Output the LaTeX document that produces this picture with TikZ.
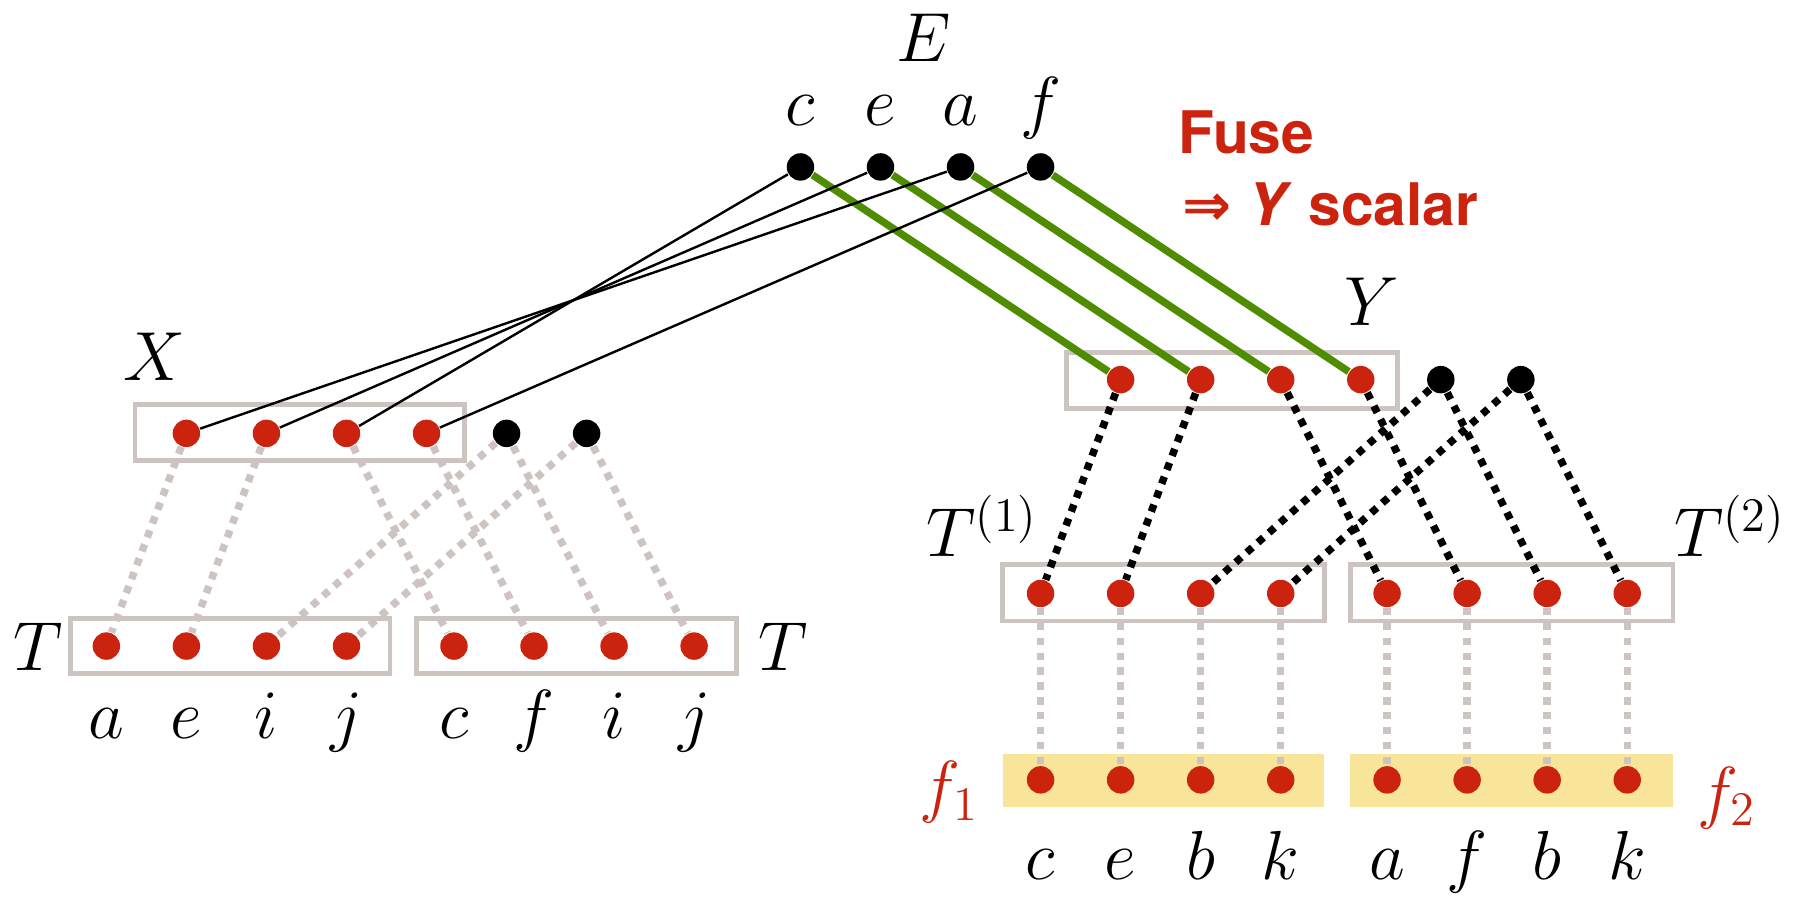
\documentclass[tikz,border=0pt]{standalone}
\usepackage{fontspec}
\newfontfamily\fusefont{TeX Gyre Heros}
\newfontfamily\arrowfont{DejaVu Sans}
\definecolor{dotred}{RGB}{204,35,15}
\definecolor{fusegreen}{RGB}{78,140,0}
\definecolor{boxgray}{RGB}{205,196,194}
\definecolor{fuseyellow}{RGB}{249,229,153}
\tikzset{
  rdot/.style={circle,fill=dotred,inner sep=0pt,minimum size=0.24cm},
  bdot/.style={circle,fill=black,inner sep=0pt,minimum size=0.24cm},
  lbl/.style={inner sep=0pt,anchor=base,font=\LARGE},
  tbox/.style={draw=boxgray,line width=1.2pt},
  ybox/.style={fill=fuseyellow},
  glink/.style={draw=boxgray,line width=0.065cm,dash pattern=on 0.065cm off 0.065cm},
  klink/.style={draw=black,line width=0.065cm,dash pattern=on 0.065cm off 0.065cm},
  elink/.style={draw=black,line width=0.6pt},
  flink/.style={draw=fusegreen,line width=0.065cm}
}
\begin{document}
\begin{tikzpicture}
\useasboundingbox (0,0) rectangle (15.68,7.85);
% boxes
\draw[tbox] (1.18,3.82) rectangle (4.06,4.31);
\draw[tbox] (0.62,1.96) rectangle (3.41,2.44); \draw[tbox] (3.64,1.96) rectangle (6.44,2.44);
\draw[tbox] (9.33,4.28) rectangle (12.22,4.77);
\draw[tbox] (8.77,2.42) rectangle (11.58,2.91); \draw[tbox] (11.81,2.42) rectangle (14.63,2.91);
\fill[ybox] (8.77,0.79) rectangle (11.58,1.26); \fill[ybox] (11.81,0.79) rectangle (14.63,1.26);
% E on top
\node[bdot] (Ec) at (7.00,6.39) {}; \node[bdot] (Ee) at (7.70,6.39) {}; \node[bdot] (Ea) at (8.40,6.39) {}; \node[bdot] (Ef) at (9.10,6.39) {};
% X and its two T
\node[rdot] (Xa) at (1.63,4.06) {}; \node[rdot] (Xe) at (2.33,4.06) {}; \node[rdot] (Xc) at (3.03,4.06) {}; \node[rdot] (Xf) at (3.73,4.06) {}; \node[bdot] (Xi) at (4.43,4.06) {}; \node[bdot] (Xj) at (5.13,4.06) {};
\node[rdot] (TLa) at (0.93,2.20) {}; \node[rdot] (TLe) at (1.63,2.20) {}; \node[rdot] (TLi) at (2.33,2.20) {}; \node[rdot] (TLj) at (3.03,2.20) {};
\node[rdot] (TRc) at (3.97,2.20) {}; \node[rdot] (TRf) at (4.67,2.20) {}; \node[rdot] (TRi) at (5.37,2.20) {}; \node[rdot] (TRj) at (6.07,2.20) {};
% Y, T^(1), T^(2) and the f's
\node[rdot] (Yc) at (9.80,4.53) {}; \node[rdot] (Ye) at (10.50,4.53) {}; \node[rdot] (Ya) at (11.20,4.53) {}; \node[rdot] (Yf) at (11.90,4.53) {}; \node[bdot] (Yb) at (12.60,4.53) {}; \node[bdot] (Yk) at (13.30,4.53) {};
\node[rdot] (Ac) at (9.10,2.66) {}; \node[rdot] (Ae) at (9.80,2.66) {}; \node[rdot] (Ab) at (10.50,2.66) {}; \node[rdot] (Ak) at (11.20,2.66) {};
\node[rdot] (Ba) at (12.13,2.66) {}; \node[rdot] (Bf) at (12.83,2.66) {}; \node[rdot] (Bb) at (13.53,2.66) {}; \node[rdot] (Bk) at (14.23,2.66) {};
\node[rdot] (Fc) at (9.10,1.03) {}; \node[rdot] (Fe) at (9.80,1.03) {}; \node[rdot] (Fb) at (10.50,1.03) {}; \node[rdot] (Fk) at (11.20,1.03) {};
\node[rdot] (Ga) at (12.13,1.03) {}; \node[rdot] (Gf) at (12.83,1.03) {}; \node[rdot] (Gb) at (13.53,1.03) {}; \node[rdot] (Gk) at (14.23,1.03) {};
% links
\foreach \A/\B in {Ec/Yc,Ee/Ye,Ea/Ya,Ef/Yf}{\draw[flink] (\A) -- (\B);}
\foreach \A/\B in {Ec/Xc,Ee/Xe,Ea/Xa,Ef/Xf}{\draw[elink] (\A) -- (\B);}
\foreach \A/\B in {Xa/TLa,Xe/TLe,Xi/TLi,Xj/TLj,Xc/TRc,Xf/TRf,Xi/TRi,Xj/TRj}{\draw[glink] (\A) -- (\B);}
\foreach \A/\B in {Yc/Ac,Ye/Ae,Yb/Ab,Yk/Ak,Ya/Ba,Yf/Bf,Yb/Bb,Yk/Bk}{\draw[klink] (\A) -- (\B);}
\foreach \A/\B in {Ac/Fc,Ae/Fe,Ab/Fb,Ak/Fk,Ba/Ga,Bf/Gf,Bb/Gb,Bk/Gk}{\draw[glink] (\A) -- (\B);}
% labels
\node[lbl] (labE) at (8.08,7.31) {$E$};
\node[lbl] (labEc) at (7.00,6.75) {$c$}; \node[lbl] (labEe) at (7.70,6.75) {$e$}; \node[lbl] (labEa) at (8.40,6.75) {$a$}; \node[lbl] (labEf) at (9.10,6.75) {$f$};
\node[lbl] (labX) at (1.35,4.52) {$X$};
\node[lbl] (labY) at (12.00,5.00) {$Y$};
\node[lbl] (labTL) at (0.335,1.99) {$T$}; \node[lbl] (labTR) at (6.85,1.99) {$T$};
\node[lbl] (labA) at (8.59,2.98) {$T^{(1)}$}; \node[lbl] (labB) at (15.13,2.98) {$T^{(2)}$};
\node[lbl,text=dotred] (labF) at (8.30,0.77) {$f_1$}; \node[lbl,text=dotred] (labG) at (15.10,0.72) {$f_2$};
\foreach \t/\x in {a/0.93,e/1.63,i/2.33,j/3.03,c/3.97,f/4.67,i/5.37,j/6.07}{\node[lbl] at (\x,1.39) {$\t$};}
\foreach \t/\x in {c/9.10,e/9.80,b/10.50,k/11.20,a/12.13,f/12.83,b/13.53,k/14.23}{\node[lbl] at (\x,0.16) {$\t$};}
\node[inner sep=0pt,anchor=base west,text=dotred,font=\fusefont\bfseries\fontsize{14.6}{17}\selectfont] (fuse) at (10.30,6.51) {Fuse};
\node[inner sep=0pt,anchor=base west,text=dotred,font=\fusefont\bfseries\fontsize{14.6}{17}\selectfont] (fuseres) at (10.33,5.88) {{\arrowfont\bfseries ⇒} \textit{Y} scalar};
\end{tikzpicture}
\end{document}
